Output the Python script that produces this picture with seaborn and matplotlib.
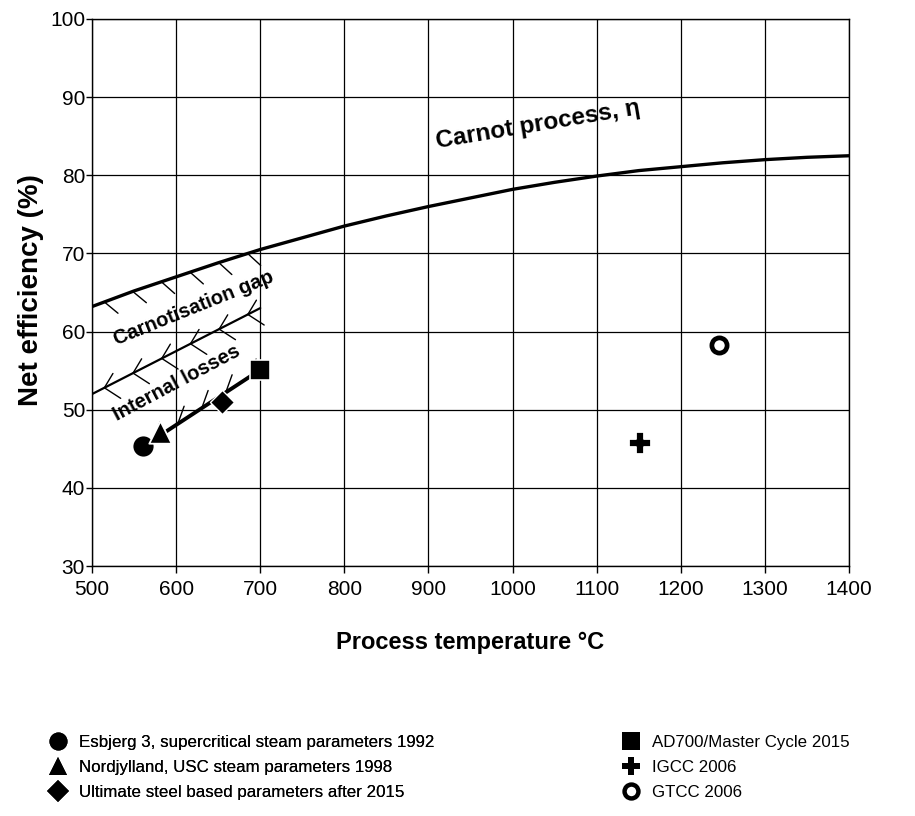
import numpy as np
import pandas as pd
import matplotlib
matplotlib.use("Agg")
import matplotlib.pyplot as plt
import seaborn as sns
from matplotlib import patheffects as pe
from matplotlib.lines import Line2D

# ---------------- data ----------------
carnot_temp = [500, 550, 600, 650, 700, 750, 800, 850, 900, 950, 1000,
               1050, 1100, 1150, 1200, 1250, 1300, 1350, 1400]
carnot_eff = [63.2, 65.2, 67.0, 68.8, 70.5, 72.0, 73.5, 74.8, 76.0, 77.1, 78.2,
              79.1, 79.9, 80.6, 81.1, 81.6, 82.0, 82.3, 82.5]
gap_limit_temp = 700          # hatched part of Carnot curve ends here

losses_temp = [500, 700]
losses_eff = [52.0, 63.0]

plant_names = ["Esbjerg 3, supercritical steam parameters 1992",
               "Nordjylland, USC steam parameters 1998",
               "Ultimate steel based parameters after 2015",
               "AD700/Master Cycle 2015",
               "IGCC 2006",
               "GTCC 2006"]
plant_temp = [561, 581, 655, 700, 1151, 1246]
plant_eff = [45.3, 47.2, 51.0, 55.1, 45.7, 58.3]
steam_line_idx = [0, 3]       # line drawn from Esbjerg 3 to AD700

x_ticks = [500, 600, 700, 800, 900, 1000, 1100, 1200, 1300, 1400]
y_ticks = [30, 40, 50, 60, 70, 80, 90, 100]

# ---------------- style ----------------
sns.set_theme(style="white")
plt.rcParams['font.family'] = ['Liberation Sans', 'DejaVu Sans']

W, H = 915, 816
fig = plt.figure(figsize=(W / 100, H / 100), dpi=100)
L, R, T, B = 92, 849, 19, 566
ax = fig.add_axes([L / W, (H - B) / H, (R - L) / W, (B - T) / H])

carnot_df = pd.DataFrame({"temp": carnot_temp, "eff": carnot_eff})
losses_df = pd.DataFrame({"temp": losses_temp, "eff": losses_eff})
plants_df = pd.DataFrame({"name": plant_names, "temp": plant_temp, "eff": plant_eff})

# Carnot curve
sns.lineplot(data=carnot_df, x="temp", y="eff", ax=ax, color="black",
             linewidth=2.4, estimator=None, sort=False, zorder=4)
# hatch ticks below Carnot curve (gap region)
sub = carnot_df[carnot_df["temp"] <= gap_limit_temp]
sns.lineplot(data=sub, x="temp", y="eff", ax=ax, color="black",
             linewidth=2.4, estimator=None, sort=False, zorder=4)
ax.lines[-1].set_path_effects([
    pe.TickedStroke(angle=-60, spacing=19, length=0.67, linewidth=1.0)])

# internal-losses line with ticks on both sides
sns.lineplot(data=losses_df, x="temp", y="eff", ax=ax, color="black",
             linewidth=1.6, estimator=None, sort=False, zorder=4)
ax.lines[-1].set_path_effects([
    pe.Normal(),
    pe.TickedStroke(angle=-60, spacing=20, length=0.7, linewidth=1.0),
    pe.TickedStroke(angle=32, spacing=20, length=0.6, linewidth=1.0)])

# steam plant development line
steam_df = plants_df.iloc[steam_line_idx]
sns.lineplot(data=steam_df, x="temp", y="eff", ax=ax, color="black",
             linewidth=2.8, estimator=None, sort=False, zorder=4)
ax.lines[-1].set_path_effects([
    pe.Normal(),
    pe.TickedStroke(angle=37, spacing=18, length=0.75, linewidth=1.0)])

# markers
marker_styles = [
    dict(marker="o", s=250, color="black"),
    dict(marker="^", s=260, color="black"),
    dict(marker="D", s=150, color="black"),
    dict(marker="s", s=210, color="black"),
    dict(marker="P", s=260, color="black"),
    dict(marker="o", s=120, facecolor="white", edgecolor="black", linewidth=3.4),
]
for i, st in enumerate(marker_styles):
    sns.scatterplot(data=plants_df.iloc[[i]], x="temp", y="eff", ax=ax,
                    legend=False, zorder=6, **st)

# axes
ax.set_xlim(500, 1400)
ax.set_ylim(30, 100)
ax.set_xticks(x_ticks)
ax.set_yticks(y_ticks)
ax.grid(True, color="black", linewidth=0.9)
for sp in ax.spines.values():
    sp.set_color("black")
    sp.set_linewidth(1.0)
ax.tick_params(axis="both", which="major", direction="out", length=5,
               width=1, color="black", labelsize=15, labelcolor="black",
               left=True, bottom=True)
ax.tick_params(axis="x", pad=5)
ax.tick_params(axis="y", length=4, pad=1)
ax.set_xlabel("Process temperature °C", fontsize=17, fontweight="bold", color="black")
ax.set_ylabel("Net efficiency (%)", fontsize=20, fontweight="bold", color="black")
ax.xaxis.set_label_coords(0.5, -0.118)
ax.yaxis.set_label_coords(-0.064, 0.505)

# annotations
ax.text(1030, 86.5, "Carnot process, η", rotation=9.5, ha="center", va="center",
        fontsize=17.5, fontweight="bold", color="black", zorder=7)
ax.text(621, 63.0, "Carnotisation gap", rotation=22, ha="center", va="center",
        fontsize=14.5, fontweight="bold", color="black", zorder=7)
ax.text(601, 53.4, "Internal losses", rotation=28, ha="center", va="center",
        fontsize=14.5, fontweight="bold", color="black", zorder=7)

# legend (two columns)
leg_ms = [13, 13, 11, 12.5, 13, 10]
handles = []
for i, st in enumerate(marker_styles):
    fc = st.get("facecolor", "black")
    mew = 3.2 if fc == "white" else 0
    handles.append(Line2D([], [], linestyle="none", marker=st["marker"],
                          markersize=leg_ms[i], markerfacecolor=fc,
                          markeredgecolor="black", markeredgewidth=mew))

common = dict(frameon=False, loc="upper left", fontsize=12.2, borderpad=0,
              borderaxespad=0, handlelength=1.0, handletextpad=0.75,
              labelspacing=0.6, labelcolor="black")
leg1 = fig.legend(handles[:3], plant_names[:3],
                  bbox_to_anchor=(49.5 / W, (H - 735) / H), **common)
fig.add_artist(leg1)
leg2 = fig.legend(handles[3:], plant_names[3:],
                  bbox_to_anchor=(622.5 / W, (H - 735) / H), **common)

fig.savefig("out.png", dpi=100, facecolor="white")
